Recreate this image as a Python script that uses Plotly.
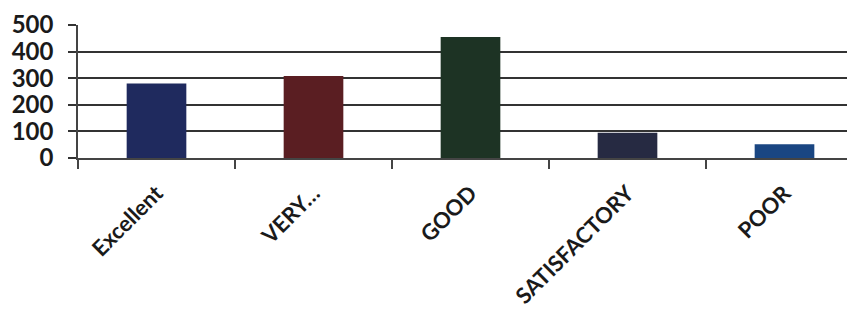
import plotly.graph_objects as go

categories = ["Excellent", "VERY…", "GOOD", "SATISFACTORY", "POOR"]
values = [280, 308, 455, 95, 52]
colors = ["#1f2a5e", "#5a1e22", "#1d3324", "#262a42", "#1a4682"]
y_ticks = [0, 100, 200, 300, 400, 500]

fig = go.Figure(go.Bar(
    x=categories, y=values, marker=dict(color=colors, line=dict(width=0)),
    width=0.38,
))

fig.update_layout(
    width=855, height=313,
    margin=dict(l=70, r=0, t=17, b=163),
    paper_bgcolor="white", plot_bgcolor="white",
    showlegend=False,
    font=dict(family="Lato", color="#222222"),
)
fig.update_xaxes(
    type="category", range=[-0.5, 4.5], automargin=False,
    showgrid=False, showline=True, linecolor="#444444", linewidth=1.5,
    ticks="outside", tickson="boundaries", ticklen=9, tickcolor="#444444", tickwidth=1.5,
    tickangle=-45, tickfont=dict(family="Lato", size=22, color="#1a1a1a", weight="bold"),
    ticklabelstandoff=12,
)
fig.update_yaxes(
    range=[0, 500], tickvals=y_ticks, automargin=False,
    showgrid=True, gridcolor="#333333", gridwidth=1.5,
    showline=True, linecolor="#444444", linewidth=1.5,
    ticks="outside", ticklen=8, tickcolor="#333333", tickwidth=1.5,
    tickfont=dict(family="Lato", size=24, color="#1a1a1a", weight="bold"),
    ticklabelstandoff=10,
    zeroline=False,
)

fig.write_html("out.html")
